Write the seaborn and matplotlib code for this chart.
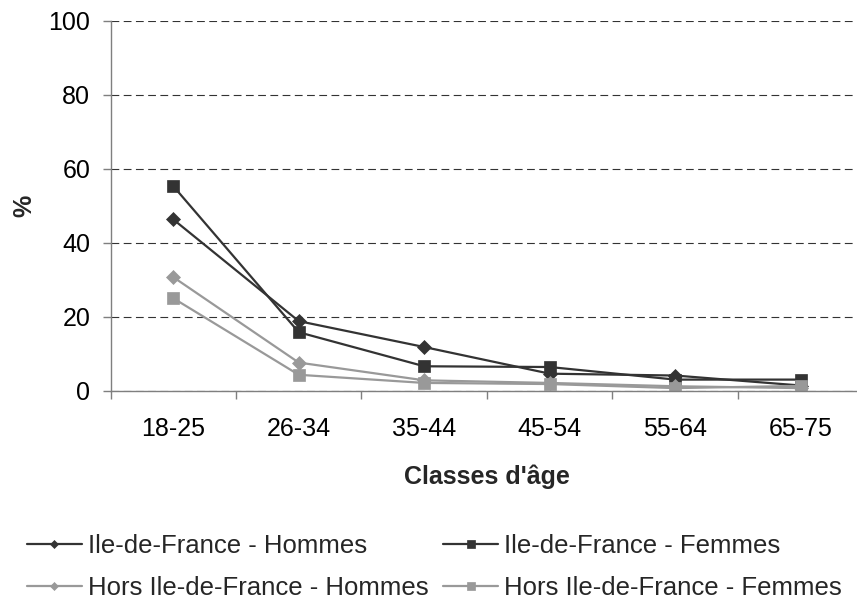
import matplotlib
matplotlib.use("Agg")
import matplotlib.pyplot as plt
import seaborn as sns
import pandas as pd
from matplotlib.ticker import FixedLocator

classes = ["18-25", "26-34", "35-44", "45-54", "55-64", "65-75"]
idf_hommes = [46.3, 18.8, 11.8, 4.6, 4.1, 1.4]
idf_femmes = [55.3, 15.8, 6.6, 6.4, 3.0, 3.0]
hors_hommes = [30.7, 7.6, 2.8, 2.1, 1.2, 0.7]
hors_femmes = [25.0, 4.3, 2.1, 1.8, 0.7, 1.3]
series_names = ["Ile-de-France - Hommes", "Ile-de-France - Femmes",
                "Hors Ile-de-France - Hommes", "Hors Ile-de-France - Femmes"]
yticks = [0, 20, 40, 60, 80, 100]

sns.set_theme(style="white")
plt.rcParams['font.family'] = ['Liberation Sans', 'DejaVu Sans']

fs = 18
fs_leg = 18.5
fig = plt.figure(figsize=(8.57, 6.01), dpi=100)
W, H = 857, 601
left, right, top, bottom = 110.5, 863.5, 20.7, 390.7
ax = fig.add_axes([left / W, (H - bottom) / H, (right - left) / W, (bottom - top) / H])

styles = [
    (idf_hommes, "#333333", "D", 6.8),
    (idf_femmes, "#333333", "s", 8.0),
    (hors_hommes, "#999999", "D", 6.8),
    (hors_femmes, "#999999", "s", 8.0),
]
for name, (vals, col, mk, ms) in zip(series_names, styles):
    df = pd.DataFrame({"classe": classes, "val": vals})
    sns.lineplot(data=df, x="classe", y="val", ax=ax, color=col, marker=mk,
                 markersize=ms, markeredgecolor=col, markeredgewidth=0.5,
                 linewidth=1.6, label=name, sort=False)

ax.set_xlim(-0.5, 5.5)
ax.set_ylim(0, 100)
ax.set_yticks(yticks)
ax.set_xticks(range(len(classes)))
ax.set_xticklabels(classes)
ax.xaxis.set_minor_locator(FixedLocator([i - 0.5 for i in range(len(classes) + 1)]))

for s in ["top", "right"]:
    ax.spines[s].set_visible(False)
for s in ["left", "bottom"]:
    ax.spines[s].set_color("#7f7f7f")
    ax.spines[s].set_linewidth(1.0)

ax.tick_params(axis="y", which="major", left=True, length=5.5, width=1.0,
               color="#7f7f7f", labelsize=fs, pad=9, labelcolor="black")
ax.tick_params(axis="x", which="major", bottom=True, length=0, labelsize=fs,
               pad=19, labelcolor="black")
ax.tick_params(axis="x", which="minor", bottom=True, length=6, width=1.0,
               color="#7f7f7f")

ax.yaxis.grid(True, color="#333333", linestyle=(0, (7, 4)), linewidth=0.8)
ax.xaxis.grid(False)
ax.set_axisbelow(True)

ax.set_xlabel("Classes d'âge", fontsize=fs, fontweight="bold")
ax.xaxis.set_label_coords(0.5, -0.20)
ax.set_ylabel("%", fontsize=fs, fontweight="bold")
ax.yaxis.set_label_coords(-0.098, 0.5)

handles, labels = ax.get_legend_handles_labels()
order = [0, 2, 1, 3]
ax.legend([handles[i] for i in order], [labels[i] for i in order],
          ncol=2, frameon=False, fontsize=fs_leg, markerscale=0.65,
          handlelength=2.14, handletextpad=0.23, columnspacing=0.58,
          labelspacing=0.7, borderpad=0, borderaxespad=0,
          loc="upper left", bbox_to_anchor=(27 / W, (H - 534) / H),
          bbox_transform=fig.transFigure)

fig.savefig("out.png", dpi=100)
